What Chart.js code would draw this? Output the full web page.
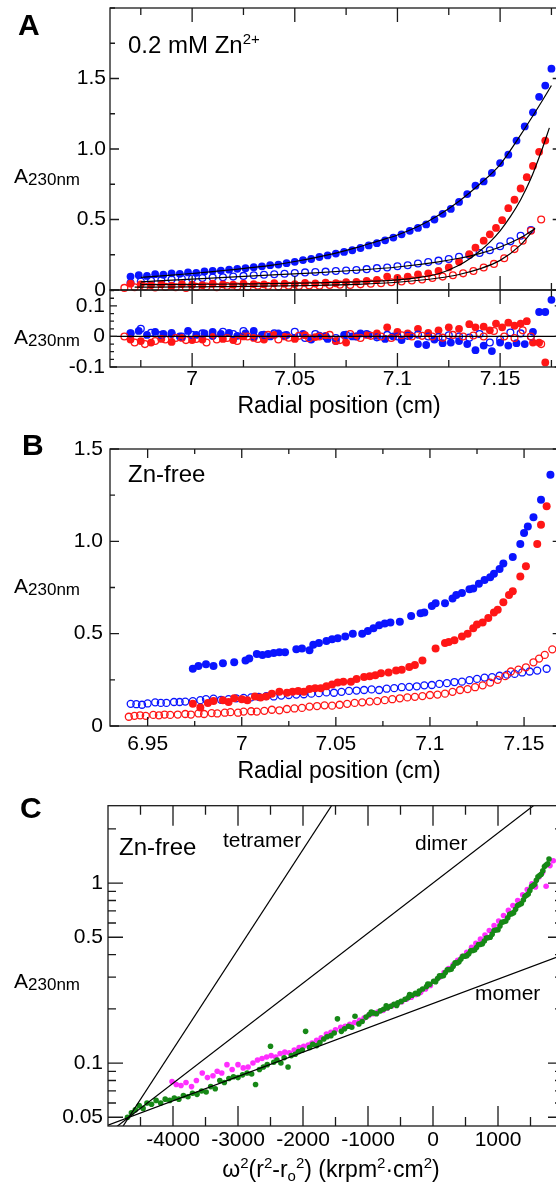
<!DOCTYPE html>
<html>
<head>
<meta charset="utf-8">
<script src="https://cdn.jsdelivr.net/npm/chart.js@4.4.1/dist/chart.umd.min.js"></script>
<style>
  html, body { margin: 0; padding: 0; background: #fff; overflow: hidden; }
  #fig { position: relative; width: 556px; height: 1189px; overflow: hidden; font-family: 'Liberation Sans', Arial, sans-serif; color: #000; }
  #fig canvas { position: absolute; left: 0; }
  .t { position: absolute; line-height: 1; white-space: nowrap; z-index: 2; }
  .c { width: 400px; text-align: center; }
  .big { font-size: 30px; font-weight: bold; }
  .ylab { font-size: 21px; }
  .sub { font-size: 17px; position: relative; top: 2px; }
  .sup { font-size: 15px; position: relative; top: -9px; }
  .so { font-size: 15px; position: relative; top: 4px; }
</style>
</head>
<body>
<div id="fig">
  <canvas id="cA" width="600" height="300" style="top:0px"></canvas>
  <canvas id="cR" width="600" height="160" style="top:280px"></canvas>
  <canvas id="cB" width="600" height="320" style="top:440px"></canvas>
  <canvas id="cC" width="600" height="394" style="top:795px"></canvas>

  <div class="t big" style="left:18px;top:9.6px">A</div>
  <div class="t" style="left:128px;top:33px;font-size:24px">0.2 mM Zn<span class="sup">2+</span></div>
  <div class="t ylab" style="left:14px;top:165.2px">A<span class="sub">230nm</span></div>
  <div class="t ylab" style="left:14px;top:326.2px">A<span class="sub">230nm</span></div>
  <div class="t c" style="left:139px;top:393.5px;font-size:23px">Radial position (cm)</div>

  <div class="t big" style="left:22px;top:429.6px">B</div>
  <div class="t" style="left:128px;top:461.7px;font-size:24px">Zn-free</div>
  <div class="t ylab" style="left:14px;top:575.2px">A<span class="sub">230nm</span></div>
  <div class="t c" style="left:139px;top:758.5px;font-size:23px">Radial position (cm)</div>

  <div class="t big" style="left:20px;top:792.6px">C</div>
  <div class="t" style="left:119px;top:834.7px;font-size:24px">Zn-free</div>
  <div class="t" style="left:223px;top:829.2px;font-size:21px">tetramer</div>
  <div class="t" style="left:415px;top:832.2px;font-size:21px">dimer</div>
  <div class="t" style="left:475px;top:982.2px;font-size:21px">momer</div>
  <div class="t ylab" style="left:14px;top:970.2px">A<span class="sub">230nm</span></div>
  <div class="t c" style="left:131px;top:1157.5px;font-size:23px">ω<span class="sup">2</span>(r<span class="sup">2</span>-r<span class="so">o</span><span class="sup">2</span>) (krpm<span class="sup">2</span>·cm<span class="sup">2</span>)</div>
</div>

<script>
// ---- panel A, 0.2 mM Zn2+ : radial scans ----
const aBlueFillX = [6.970, 6.974, 6.978, 6.982, 6.986, 6.990, 6.994, 6.998, 7.002, 7.006,
  7.010, 7.014, 7.018, 7.022, 7.026, 7.030, 7.034, 7.038, 7.042, 7.046,
  7.050, 7.054, 7.058, 7.062, 7.066, 7.070, 7.074, 7.078, 7.082, 7.086,
  7.090, 7.094, 7.098, 7.102, 7.106, 7.110, 7.114, 7.118, 7.122, 7.126,
  7.130, 7.134, 7.138, 7.142, 7.146, 7.150, 7.154, 7.158, 7.162, 7.166,
  7.169, 7.172, 7.175]
const aBlueFillY = [0.095, 0.105, 0.100, 0.112, 0.108, 0.118, 0.115, 0.125, 0.122, 0.132,
  0.136, 0.138, 0.144, 0.150, 0.155, 0.162, 0.168, 0.176, 0.180, 0.190,
  0.200, 0.212, 0.220, 0.234, 0.245, 0.258, 0.270, 0.282, 0.298, 0.316,
  0.332, 0.352, 0.372, 0.395, 0.420, 0.440, 0.465, 0.500, 0.540, 0.575,
  0.625, 0.680, 0.740, 0.770, 0.830, 0.900, 0.960, 1.060, 1.160, 1.260,
  1.370, 1.450, 1.570]
const aBlueFillRes = [0.010, 0.018, 0.005, 0.015, 0.008, 0.012, 0.000, 0.018, 0.005, 0.010,
  0.015, 0.008, 0.012, 0.002, 0.010, 0.018, 0.005, 0.000, 0.010, 0.005,
  -0.005, 0.008, -0.010, 0.003, -0.008, -0.015, 0.005, 0.000, 0.010, 0.005,
  0.002, -0.008, 0.000, -0.012, 0.004, -0.025, -0.028, -0.010, -0.022, -0.020,
  -0.015, -0.025, -0.045, -0.030, -0.048, -0.020, -0.030, -0.022, -0.025, 0.015,
  0.080, 0.080, 0.120]

const aBlueOpenX = [6.970, 6.975, 6.980, 6.985, 6.990, 6.995, 7.000, 7.005, 7.010, 7.015,
  7.020, 7.025, 7.030, 7.035, 7.040, 7.045, 7.050, 7.055, 7.060, 7.065,
  7.070, 7.075, 7.080, 7.085, 7.090, 7.095, 7.100, 7.105, 7.110, 7.115,
  7.120, 7.125, 7.130, 7.135, 7.140, 7.145, 7.150, 7.155, 7.160, 7.165]
const aBlueOpenY = [0.050, 0.060, 0.065, 0.070, 0.075, 0.080, 0.082, 0.085, 0.088, 0.090,
  0.095, 0.100, 0.105, 0.108, 0.112, 0.115, 0.120, 0.125, 0.128, 0.130,
  0.135, 0.138, 0.142, 0.148, 0.155, 0.160, 0.168, 0.176, 0.188, 0.198,
  0.208, 0.220, 0.235, 0.248, 0.262, 0.282, 0.310, 0.345, 0.385, 0.425]
const aBlueOpenRes = [0.010, 0.025, 0.012, 0.005, 0.008, 0.000, 0.005, 0.010, 0.002, 0.015,
  0.008, 0.018, 0.000, 0.005, 0.010, 0.003, 0.015, -0.005, 0.008, 0.000,
  -0.005, 0.005, 0.000, 0.008, -0.003, 0.005, 0.000, 0.002, 0.006, 0.000,
  -0.002, 0.004, 0.000, -0.004, 0.008, -0.020, -0.010, 0.013, 0.010, 0.000]

const aRedFillX = [6.970, 6.975, 6.980, 6.985, 6.990, 6.995, 7.000, 7.005, 7.010, 7.015,
  7.020, 7.025, 7.030, 7.035, 7.040, 7.045, 7.050, 7.055, 7.060, 7.065,
  7.070, 7.075, 7.080, 7.085, 7.090, 7.095, 7.100, 7.105, 7.110, 7.115,
  7.120, 7.125, 7.130, 7.135, 7.138, 7.142, 7.145, 7.148, 7.151, 7.154,
  7.157, 7.160, 7.163, 7.166, 7.169, 7.172]
const aRedFillY = [0.045, 0.040, 0.035, 0.040, 0.030, 0.042, 0.038, 0.035, 0.045, 0.040,
  0.038, 0.045, 0.042, 0.040, 0.048, 0.045, 0.042, 0.050, 0.046, 0.052,
  0.048, 0.056, 0.058, 0.065, 0.072, 0.095, 0.085, 0.095, 0.110, 0.118,
  0.135, 0.160, 0.200, 0.255, 0.300, 0.350, 0.395, 0.440, 0.495, 0.580,
  0.640, 0.720, 0.800, 0.880, 0.980, 1.060]
const aRedFillRes = [-0.010, -0.015, -0.020, -0.008, -0.018, -0.005, -0.012, -0.010, 0.002, -0.008,
  -0.012, 0.000, -0.005, -0.010, 0.005, 0.000, -0.008, 0.004, -0.002, 0.002,
  -0.015, -0.020, 0.000, 0.005, 0.010, 0.030, 0.015, 0.010, 0.025, 0.012,
  0.020, 0.030, 0.025, 0.040, 0.030, 0.032, 0.020, 0.042, 0.030, 0.045,
  0.035, 0.042, 0.050, -0.020, -0.020, -0.085]

const aRedOpenX = [6.967, 6.972, 6.977, 6.982, 6.987, 6.992, 6.997, 7.002, 7.007, 7.012,
  7.017, 7.022, 7.027, 7.032, 7.037, 7.042, 7.047, 7.052, 7.057, 7.062,
  7.067, 7.072, 7.077, 7.082, 7.087, 7.092, 7.097, 7.102, 7.107, 7.112,
  7.117, 7.122, 7.127, 7.132, 7.137, 7.142, 7.147, 7.152, 7.157, 7.161,
  7.165, 7.170]
const aRedOpenY = [0.015, 0.020, 0.025, 0.018, 0.022, 0.020, 0.015, 0.022, 0.025, 0.020,
  0.028, 0.025, 0.022, 0.030, 0.028, 0.025, 0.030, 0.028, 0.032, 0.030,
  0.035, 0.038, 0.035, 0.040, 0.045, 0.048, 0.055, 0.060, 0.068, 0.075,
  0.085, 0.095, 0.105, 0.118, 0.135, 0.160, 0.185, 0.225, 0.290, 0.350,
  0.420, 0.500]
const aRedOpenRes = [0.000, -0.020, -0.025, -0.015, -0.010, -0.005, -0.012, -0.008, -0.020, -0.010,
  -0.005, -0.015, 0.000, -0.008, 0.005, -0.010, -0.004, 0.002, -0.006, 0.000,
  0.005, -0.012, 0.008, -0.005, 0.002, 0.000, -0.005, 0.004, 0.000, 0.002,
  0.000, -0.004, 0.005, 0.000, 0.003, 0.000, 0.018, 0.000, -0.005, 0.020,
  0.000, -0.025]

// fitted curves
const aBlueFillFitX = [6.975, 6.99, 7.00, 7.01, 7.02, 7.03, 7.04, 7.05, 7.06, 7.07, 7.08, 7.09, 7.10, 7.11, 7.12, 7.13, 7.14, 7.15, 7.16, 7.17, 7.175]
const aBlueFillFitY = [0.090, 0.105, 0.117, 0.130, 0.145, 0.160, 0.178, 0.202, 0.230, 0.262, 0.300, 0.345, 0.390, 0.450, 0.530, 0.630, 0.750, 0.890, 1.100, 1.330, 1.450]
const aBlueOpenFitX = [6.975, 7.00, 7.03, 7.06, 7.08, 7.10, 7.12, 7.13, 7.14, 7.15, 7.16, 7.167]
const aBlueOpenFitY = [0.058, 0.077, 0.100, 0.122, 0.140, 0.163, 0.200, 0.225, 0.258, 0.305, 0.370, 0.435]
const aRedFillFitX = [6.975, 7.00, 7.03, 7.06, 7.08, 7.10, 7.11, 7.12, 7.13, 7.135, 7.14, 7.145, 7.15, 7.155, 7.16, 7.165, 7.17, 7.174]
const aRedFillFitY = [0.038, 0.040, 0.043, 0.050, 0.058, 0.072, 0.088, 0.115, 0.175, 0.220, 0.275, 0.340, 0.420, 0.520, 0.640, 0.790, 0.980, 1.150]
const aRedOpenFitX = [6.972, 7.00, 7.03, 7.06, 7.08, 7.10, 7.12, 7.13, 7.14, 7.15, 7.16, 7.167]
const aRedOpenFitY = [0.020, 0.022, 0.026, 0.032, 0.040, 0.055, 0.085, 0.110, 0.150, 0.210, 0.320, 0.440]
const resZeroX = [6.96, 7.18]
const resZeroY = [0, 0]

const aXTicks = [6.975, 7, 7.025, 7.05, 7.075, 7.1, 7.125, 7.15, 7.175]
const aXLabels = ['', '7', '', '7.05', '', '7.1', '', '7.15', '']
const aYTicks = [0, 0.25, 0.5, 0.75, 1, 1.25, 1.5, 1.75, 2]
const aYLabels = ['0', '', '0.5', '', '1.0', '', '1.5', '', '']
const rYTicks = [-0.1, -0.075, -0.05, -0.025, 0, 0.025, 0.05, 0.075, 0.1, 0.125, 0.15]
const rYLabels = ['-0.1', '', '', '', '0', '', '', '', '0.1', '', '']

// ---- panel B, Zn-free : radial scans ----
const bBlueFillX = [6.974, 6.977, 6.981, 6.985, 6.990, 6.996, 7.002, 7.004, 7.008, 7.011,
  7.014, 7.017, 7.020, 7.023, 7.029, 7.032, 7.036, 7.038, 7.041, 7.045,
  7.048, 7.051, 7.055, 7.059, 7.064, 7.067, 7.070, 7.073, 7.076, 7.079,
  7.084, 7.090, 7.095, 7.097, 7.101, 7.103, 7.108, 7.112, 7.114, 7.117,
  7.121, 7.123, 7.126, 7.129, 7.132, 7.134, 7.137, 7.139, 7.144, 7.148,
  7.150, 7.152, 7.155, 7.159, 7.164]
const bBlueFillY = [0.310, 0.325, 0.335, 0.325, 0.340, 0.345, 0.355, 0.365, 0.390, 0.385,
  0.390, 0.395, 0.400, 0.400, 0.415, 0.420, 0.410, 0.440, 0.450, 0.460,
  0.470, 0.475, 0.485, 0.500, 0.500, 0.515, 0.530, 0.545, 0.555, 0.560,
  0.565, 0.595, 0.610, 0.615, 0.650, 0.665, 0.665, 0.690, 0.710, 0.720,
  0.740, 0.745, 0.770, 0.790, 0.805, 0.825, 0.850, 0.880, 0.915, 0.985,
  1.045, 1.080, 1.130, 1.225, 1.360]
const bRedFillX = [6.974, 6.978, 6.982, 6.985, 6.990, 6.993, 6.996, 7.000, 7.003, 7.007,
  7.010, 7.013, 7.016, 7.020, 7.024, 7.027, 7.030, 7.033, 7.036, 7.039,
  7.042, 7.045, 7.048, 7.051, 7.054, 7.058, 7.061, 7.065, 7.068, 7.071,
  7.074, 7.078, 7.082, 7.085, 7.089, 7.092, 7.096, 7.103, 7.108, 7.110,
  7.113, 7.117, 7.120, 7.123, 7.125, 7.128, 7.131, 7.134, 7.136, 7.139,
  7.142, 7.144, 7.148, 7.151, 7.157, 7.159, 7.162]
const bRedFillY = [0.120, 0.100, 0.125, 0.135, 0.140, 0.130, 0.150, 0.145, 0.140, 0.160,
  0.155, 0.160, 0.175, 0.185, 0.180, 0.185, 0.190, 0.185, 0.200, 0.205,
  0.205, 0.215, 0.225, 0.235, 0.240, 0.240, 0.255, 0.265, 0.270, 0.275,
  0.285, 0.290, 0.300, 0.305, 0.320, 0.330, 0.355, 0.420, 0.450, 0.455,
  0.465, 0.485, 0.500, 0.530, 0.550, 0.560, 0.585, 0.615, 0.630, 0.670,
  0.710, 0.730, 0.810, 0.865, 0.985, 1.090, 1.190]
const bBlueOpenX = [6.941, 6.944, 6.947, 6.950, 6.954, 6.957, 6.960, 6.964, 6.967, 6.970,
  6.974, 6.978, 6.981, 6.985, 6.989, 6.993, 6.997, 7.001, 7.005, 7.009,
  7.013, 7.017, 7.021, 7.025, 7.029, 7.033, 7.037, 7.041, 7.045, 7.049,
  7.053, 7.057, 7.061, 7.065, 7.069, 7.073, 7.077, 7.081, 7.085, 7.089,
  7.093, 7.097, 7.101, 7.105, 7.109, 7.113, 7.117, 7.121, 7.125, 7.129,
  7.133, 7.137, 7.141, 7.145, 7.149, 7.153, 7.157, 7.162]
const bBlueOpenY = [0.120, 0.118, 0.115, 0.122, 0.128, 0.125, 0.125, 0.130, 0.130, 0.132,
  0.135, 0.140, 0.145, 0.148, 0.142, 0.145, 0.150, 0.152, 0.155, 0.158,
  0.162, 0.160, 0.165, 0.168, 0.170, 0.172, 0.175, 0.178, 0.182, 0.180,
  0.185, 0.190, 0.192, 0.195, 0.198, 0.195, 0.202, 0.205, 0.210, 0.212,
  0.215, 0.220, 0.222, 0.228, 0.232, 0.238, 0.240, 0.248, 0.255, 0.262,
  0.265, 0.272, 0.278, 0.282, 0.290, 0.295, 0.300, 0.310]
const bRedOpenX = [6.940, 6.943, 6.946, 6.949, 6.953, 6.956, 6.959, 6.962, 6.966, 6.970,
  6.973, 6.977, 6.980, 6.984, 6.987, 6.991, 6.994, 6.998, 7.001, 7.005,
  7.008, 7.012, 7.016, 7.020, 7.024, 7.028, 7.032, 7.036, 7.040, 7.044,
  7.048, 7.052, 7.056, 7.060, 7.064, 7.068, 7.072, 7.076, 7.080, 7.084,
  7.088, 7.092, 7.096, 7.100, 7.104, 7.108, 7.112, 7.116, 7.120, 7.124,
  7.128, 7.132, 7.136, 7.140, 7.143, 7.147, 7.151, 7.155, 7.158, 7.161,
  7.165]
const bRedOpenY = [0.050, 0.055, 0.058, 0.055, 0.060, 0.058, 0.062, 0.060, 0.062, 0.065,
  0.062, 0.068, 0.065, 0.070, 0.068, 0.072, 0.075, 0.072, 0.078, 0.080,
  0.078, 0.082, 0.088, 0.085, 0.092, 0.095, 0.098, 0.105, 0.108, 0.112,
  0.110, 0.115, 0.120, 0.125, 0.128, 0.132, 0.135, 0.140, 0.145, 0.150,
  0.155, 0.158, 0.162, 0.168, 0.170, 0.175, 0.185, 0.195, 0.200, 0.210,
  0.220, 0.235, 0.250, 0.270, 0.295, 0.305, 0.318, 0.345, 0.365, 0.385,
  0.415]

const bXTicks = [6.95, 6.975, 7, 7.025, 7.05, 7.075, 7.1, 7.125, 7.15]
const bXLabels = ['6.95', '', '7', '', '7.05', '', '7.1', '', '7.15']
const bYTicks = [0, 0.25, 0.5, 0.75, 1, 1.25, 1.5]
const bYLabels = ['0', '', '0.5', '', '1.0', '', '1.5']

// ---- panel C, Zn-free : ln plot ----
const cGreenX = [-4700, -4640, -4580, -4520, -4460, -4400, -4330, -4260, -4190, -4120,
  -4050, -3980, -3910, -3840, -3770, -3700, -3630, -3560, -3490, -3420,
  -3350, -3280, -3210, -3140, -3070, -3000, -2930, -2860, -2790, -2730,
  -2670, -2610, -2550, -2500, -2450, -2400, -2340, -2290, -2230, -2180,
  -2120, -2070, -2010, -1960, -1900, -1850, -1790, -1740, -1680, -1630,
  -1570, -1520, -1470, -1410, -1360, -1300, -1250, -1200, -1140, -1090,
  -1030, -980, -920, -870, -810, -760, -700, -650, -600, -540,
  -490, -430, -380, -320, -270, -210, -160, -100, -50, 10,
  70, 130, 190, 250, 310, 370, 430, 490, 550, 610,
  670, 730, 790, 850, 910, 970, 1030, 1090, 1150, 1210,
  1270, 1330, 1390, 1440, 1490, 1540, 1590, 1640, 1690, 1740, 1785]
const cGreenY = [0.050, 0.053, 0.055, 0.058, 0.056, 0.060, 0.059, 0.062, 0.060, 0.063,
  0.062, 0.064, 0.063, 0.066, 0.065, 0.068, 0.067, 0.070, 0.069, 0.074,
  0.072, 0.080, 0.078, 0.082, 0.084, 0.083, 0.086, 0.088, 0.087, 0.076,
  0.092, 0.095, 0.098, 0.124, 0.101, 0.104, 0.100, 0.107, 0.095, 0.110,
  0.112, 0.116, 0.118, 0.150, 0.122, 0.127, 0.125, 0.130, 0.136, 0.140,
  0.142, 0.147, 0.176, 0.150, 0.155, 0.160, 0.158, 0.182, 0.165, 0.170,
  0.180, 0.186, 0.190, 0.188, 0.195, 0.199, 0.203, 0.207, 0.212, 0.216,
  0.220, 0.226, 0.231, 0.238, 0.244, 0.251, 0.258, 0.266, 0.274, 0.285,
  0.295, 0.305, 0.318, 0.330, 0.345, 0.360, 0.378, 0.392, 0.405, 0.422,
  0.438, 0.456, 0.476, 0.497, 0.520, 0.548, 0.578, 0.610, 0.642, 0.676,
  0.715, 0.760, 0.805, 0.855, 0.910, 0.970, 1.035, 1.100, 1.170, 1.260, 1.360]
const cGreen2X = [-950, -720, -560, -360, -230, -80, 40, 100, 160, 220,
  280, 340, 400, 460, 520, 580, 640, 700, 760, 820,
  880, 940, 1000, 1060, 1120, 1180, 1240, 1300, 1360, 1415,
  1465, 1515, 1565, 1615, 1665, 1715, 1765]
const cGreen2Y = [0.192, 0.208, 0.209, 0.240, 0.243, 0.275, 0.283, 0.305, 0.306, 0.330,
  0.332, 0.360, 0.365, 0.392, 0.395, 0.420, 0.425, 0.455, 0.460, 0.495,
  0.500, 0.545, 0.550, 0.605, 0.615, 0.670, 0.685, 0.750, 0.770, 0.845,
  0.870, 0.955, 0.985, 1.085, 1.120, 1.235, 1.280]
const cMagX = [-4015, -3950, -3877, -3800, -3715, -3640, -3550, -3470, -3385, -3320,
  -3250, -3170, -3090, -3000, -2920, -2845, -2770, -2700, -2630, -2560,
  -2490, -2420, -2352, -2280, -2210, -2135, -2060, -1990, -1920, -1861,
  -1790, -1720, -1640, -1570, -1500, -1420, -1350, -1280, -1206, -1130,
  -1060, -988, -920, -850, -770, -700, -630, -552, -480, -410,
  -334, -260, -190, -115, -40, 30, 100, 170, 240, 310,
  380, 450, 520, 594, 660, 730, 800, 866, 940, 1010,
  1085, 1160, 1230, 1303, 1380, 1450, 1523, 1577, 1630, 1686, 1740, 1800, 1850]
const cMagY = [0.079, 0.076, 0.075, 0.078, 0.074, 0.080, 0.088, 0.083, 0.085, 0.090,
  0.088, 0.098, 0.092, 0.098, 0.094, 0.095, 0.100, 0.104, 0.106, 0.108,
  0.110, 0.108, 0.113, 0.115, 0.114, 0.118, 0.122, 0.124, 0.126, 0.129,
  0.134, 0.138, 0.145, 0.148, 0.153, 0.158, 0.160, 0.164, 0.168, 0.173,
  0.178, 0.184, 0.188, 0.192, 0.196, 0.202, 0.208, 0.213, 0.219, 0.226,
  0.232, 0.240, 0.247, 0.258, 0.270, 0.285, 0.300, 0.318, 0.335, 0.352,
  0.372, 0.392, 0.412, 0.440, 0.462, 0.488, 0.515, 0.545, 0.580, 0.615,
  0.660, 0.705, 0.750, 0.800, 0.860, 0.920, 0.990, 0.950, 1.080, 1.150, 0.960, 1.250, 1.330]
// ideal species lines
const monomerX = [-5000, 2000]
const monomerY = [0.0452, 0.399]
const dimerX = [-5000, 2000]
const dimerY = [0.0407, 3.60]
const tetramerX = [-5000, -1000]
const tetramerY = [0.0332, 5.51]

const cXTicks = [-4500, -4000, -3500, -3000, -2500, -2000, -1500, -1000, -500, 0, 500, 1000, 1500, 2000]
const cXLabels = ['', '-4000', '', '-3000', '', '-2000', '', '-1000', '', '0', '', '1000', '', '']
const cYTicks = [0.05, 0.06, 0.07, 0.08, 0.09, 0.1, 0.2, 0.3, 0.4, 0.5, 0.6, 0.7, 0.8, 0.9, 1, 2]
const cYLabels = ['0.05', '', '', '', '', '0.1', '', '', '', '0.5', '', '', '', '', '1', '']

// ---- drawing ----
const FONT = "'Liberation Sans', Arial, sans-serif"
const BLUE = '#0a14ff'
const RED = '#ff1616'
const GREEN = '#168816'
const MAGENTA = '#ff2eff'
const INK = '#1a1a1a'

const pts = (xs, ys) => xs.map((x, i) => ({ x: x, y: ys[i] }))

const dots = (xs, ys, color, r, open) => ({
  data: pts(xs, ys),
  showLine: false,
  clip: false,
  pointRadius: r,
  pointHoverRadius: r,
  pointBackgroundColor: open ? 'rgba(255,255,255,0)' : color,
  pointBorderColor: color,
  pointBorderWidth: open ? 1.3 : 0,
})

const curve = (xs, ys, smooth) => ({
  data: pts(xs, ys),
  showLine: true,
  clip: 0,
  pointRadius: 0,
  pointHoverRadius: 0,
  borderColor: '#000',
  borderWidth: 1.2,
  fill: false,
  tension: 0,
  cubicInterpolationMode: smooth ? 'monotone' : 'default',
})

const axis = (o) => ({
  type: o.type || 'linear',
  min: o.min,
  max: o.max,
  display: o.show !== false,
  grid: { display: false, drawTicks: false },
  border: { display: false },
  afterBuildTicks: (s) => {
    s.ticks = o.ticks.map((v) => ({ value: v }))
  },
  afterFit: (s) => {
    if (o.size === undefined) return
    if (s.isHorizontal()) s.height = o.size
    else s.width = o.size
    s.paddingLeft = s.paddingRight = s.paddingTop = s.paddingBottom = 0
  },
  ticks: {
    autoSkip: false,
    maxRotation: 0,
    minRotation: 0,
    padding: o.pad || 0,
    color: '#000',
    font: { family: FONT, size: 21 },
    callback: (v, i) => o.labels[i],
  },
})

// box with inward ticks on all four sides
const frame = (o) => ({
  id: 'frame',
  afterDatasetsDraw(chart) {
    const { ctx, chartArea: a } = chart
    const sx = chart.scales.x
    const sy = chart.scales.y
    ctx.save()
    ctx.strokeStyle = INK
    ctx.lineWidth = 1.3
    ctx.beginPath()
    o.xTicks.forEach((v, i) => {
      const p = sx.getPixelForValue(v)
      const len = o.xLabels[i] ? o.xLen[0] : o.xLen[1]
      ctx.moveTo(p, a.bottom)
      ctx.lineTo(p, a.bottom - len)
      ctx.moveTo(p, a.top)
      ctx.lineTo(p, a.top + len)
    })
    o.yTicks.forEach((v, i) => {
      const p = sy.getPixelForValue(v)
      const len = o.yLabels[i] ? o.yLen[0] : o.yLen[1]
      ctx.moveTo(a.left, p)
      ctx.lineTo(a.left + len, p)
      ctx.moveTo(a.right, p)
      ctx.lineTo(a.right - len, p)
    })
    ctx.stroke()
    ctx.strokeRect(a.left, a.top, a.right - a.left, a.bottom - a.top)
    ctx.restore()
  },
})

const opts = (padding, scales) => ({
  responsive: false,
  animation: false,
  devicePixelRatio: 1,
  events: [],
  layout: { padding: padding },
  plugins: { legend: { display: false }, tooltip: { enabled: false } },
  scales: scales,
})

// A, top
new Chart(document.getElementById('cA'), {
  type: 'scatter',
  data: {
    datasets: [
      curve(aBlueFillFitX, aBlueFillFitY, true),
      curve(aBlueOpenFitX, aBlueOpenFitY, true),
      curve(aRedFillFitX, aRedFillFitY, true),
      curve(aRedOpenFitX, aRedOpenFitY, true),
      dots(aRedOpenX, aRedOpenY, RED, 3.4, true),
      dots(aRedFillX, aRedFillY, RED, 3.9, false),
      dots(aBlueOpenX, aBlueOpenY, BLUE, 3.4, true),
      dots(aBlueFillX, aBlueFillY, BLUE, 3.9, false),
    ],
  },
  options: opts({ left: 0, top: 8, right: 38.3, bottom: 10 }, {
    x: axis({ min: 6.96, max: 7.18, ticks: aXTicks, labels: aXLabels, show: false }),
    y: axis({ min: 0, max: 2, ticks: aYTicks, labels: aYLabels, size: 110, pad: 4 }),
  }),
  plugins: [frame({ xTicks: aXTicks, xLabels: aXLabels, xLen: [14, 7], yTicks: aYTicks, yLabels: aYLabels, yLen: [9, 5] })],
})

// A, residuals
new Chart(document.getElementById('cR'), {
  type: 'scatter',
  data: {
    datasets: [
      curve(resZeroX, resZeroY, false),
      dots(aRedOpenX, aRedOpenRes, RED, 3.4, true),
      dots(aBlueOpenX, aBlueOpenRes, BLUE, 3.4, true),
      dots(aRedFillX, aRedFillRes, RED, 3.9, false),
      dots(aBlueFillX, aBlueFillRes, BLUE, 3.9, false),
    ],
  },
  options: opts({ left: 0, top: 10, right: 38.3, bottom: 0 }, {
    x: axis({ min: 6.96, max: 7.18, ticks: aXTicks, labels: aXLabels, size: 73, pad: 0 }),
    y: axis({ min: -0.1, max: 0.152, ticks: rYTicks, labels: rYLabels, size: 110, pad: 5 }),
  }),
  plugins: [frame({ xTicks: aXTicks, xLabels: aXLabels, xLen: [14, 7], yTicks: rYTicks, yLabels: rYLabels, yLen: [7, 4] })],
})

// B
new Chart(document.getElementById('cB'), {
  type: 'scatter',
  data: {
    datasets: [
      dots(bRedFillX, bRedFillY, RED, 4, false),
      dots(bBlueFillX, bBlueFillY, BLUE, 4, false),
      dots(bRedOpenX, bRedOpenY, RED, 3.5, true),
      dots(bBlueOpenX, bBlueOpenY, BLUE, 3.5, true),
    ],
  },
  options: opts({ left: 0, top: 9, right: 38.3, bottom: 0 }, {
    x: axis({ min: 6.93, max: 7.17, ticks: bXTicks, labels: bXLabels, size: 34, pad: 6 }),
    y: axis({ min: 0, max: 1.5, ticks: bYTicks, labels: bYLabels, size: 110, pad: 7 }),
  }),
  plugins: [frame({ xTicks: bXTicks, xLabels: bXLabels, xLen: [9, 5], yTicks: bYTicks, yLabels: bYLabels, yLen: [9, 5] })],
})

// C
new Chart(document.getElementById('cC'), {
  type: 'scatter',
  data: {
    datasets: [
      curve(monomerX, monomerY, false),
      curve(dimerX, dimerY, false),
      curve(tetramerX, tetramerY, false),
      dots(cGreenX, cGreenY, GREEN, 2.8, false),
      dots(cGreen2X, cGreen2Y, GREEN, 2.8, false),
      dots(cMagX, cMagY, MAGENTA, 2.8, false),
    ],
  },
  options: opts({ left: 0, top: 10.7, right: 37, bottom: 0 }, {
    x: axis({ min: -5000, max: 2000, ticks: cXTicks, labels: cXLabels, size: 63, pad: 2 }),
    y: axis({ type: 'logarithmic', min: 0.0447, max: 2.69, ticks: cYTicks, labels: cYLabels, size: 108, pad: 5 }),
  }),
  plugins: [frame({ xTicks: cXTicks, xLabels: cXLabels, xLen: [20, 9], yTicks: cYTicks, yLabels: cYLabels, yLen: [15, 8] })],
})
</script>
</body>
</html>
